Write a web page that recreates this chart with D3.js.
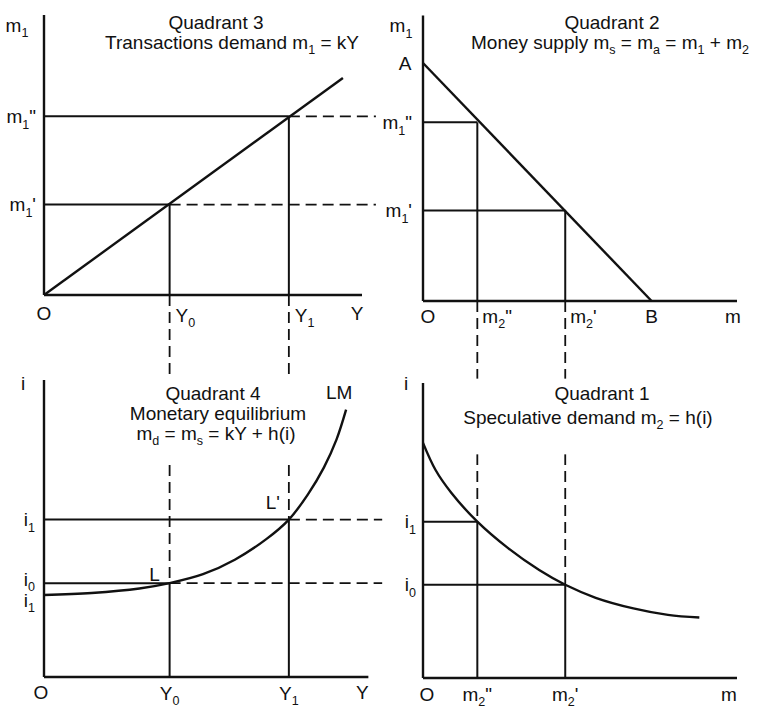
<!DOCTYPE html>
<html><head><meta charset="utf-8">
<script src="https://cdn.jsdelivr.net/npm/d3@7"></script>
<style>
body{margin:0;background:#fff}
svg text{font-family:"Liberation Sans",Arial,Helvetica,sans-serif;fill:#111;white-space:pre}
</style></head><body>
<svg id="c" width="769" height="710"></svg>
<script>
// ---- values (index 0: Y0 / m1' / m2' / i0, index 1: Y1 / m1" / m2" / i1) ----
const incomeLevels = [39.5, 77];
const incomeLabels = ["Y_0", "Y_1"];
const transactionsBalances = [32.3, 63.8];
const transactionsLabels = ["m_1'", "m_1\""];
const speculativeBalances = [45.3, 17.3];
const speculativeLabels = ["m_2'", "m_2\""];
const interestRates = [31.6, 53];
const interestLabels = ["i_0", "i_1"];

// transactions demand m1 = kY (Y, m1)
const transactionsLine = [[0, 0], [94, 77.5]];
// money supply line A -> B (m2, m1)
const moneySupplyLine = [[0, 85], [72.8, 0]];
// speculative demand m2 = h(i) (m2, i)
const speculativeCurve = [[0, 79.7], [4, 70.5], [9, 62.8], [17.3, 53], [27, 44.1], [37, 36.6],
  [45.3, 31.6], [55, 27.2], [67, 23.6], [78, 21.4], [88, 20.5]];
// LM curve (Y, i)
const lmCurve = [[0, 27.6], [15, 28.3], [30, 29.8], [39.5, 31.6], [50, 34.6], [60, 39.5],
  [70, 46.5], [77, 53], [83, 61.5], [88, 70.5], [92, 80], [95, 90]];

const titles = {
  q3: ["Quadrant 3", "Transactions demand m_1 = kY"],
  q2: ["Quadrant 2", "Money supply m_s = m_a = m_1 + m_2"],
  q4: ["Quadrant 4", "Monetary equilibrium", "m_d = m_s = kY + h(i)"],
  q1: ["Quadrant 1", "Speculative demand m_2 = h(i)"]
};

// ---- scales: left panels share Y, right panels share m ----
const xLeft = d3.scaleLinear([0, 100], [44, 362]);
const xRight = d3.scaleLinear([0, 100], [423, 737]);
const yQ3 = d3.scaleLinear([0, 100], [295, 15]);
const yQ2 = d3.scaleLinear([0, 100], [301, 21]);
const yQ4 = d3.scaleLinear([0, 100], [677, 380]);
const yQ1 = d3.scaleLinear([0, 100], [678, 383]);

const svg = d3.select("#c");
const ink = "#111";
const gDash = svg.append("g");
const gTitle = svg.append("g");
const gSolid = svg.append("g");
const gText = svg.append("g");

function rich(parent, x, y, s, anchor = "middle", size = 19) {
  const t = parent.append("text").attr("x", x).attr("y", y + size * 0.35)
    .attr("text-anchor", anchor).style("font-size", size + "px");
  const re = /_(.)|([^_]+)/g;
  let m, prevSub = false;
  const shift = size * 0.3;
  while ((m = re.exec(s))) {
    if (m[1]) {
      t.append("tspan").attr("dy", prevSub ? 0 : shift).style("font-size", (size * 0.66) + "px").text(m[1]);
      prevSub = true;
    } else {
      const sp = t.append("tspan").text(m[2]);
      if (prevSub) sp.attr("dy", -shift);
      prevSub = false;
    }
  }
  return t;
}

function seg(parent, x1, y1, x2, y2, w = 2, dash = null) {
  const l = parent.append("line").attr("x1", x1).attr("y1", y1).attr("x2", x2).attr("y2", y2)
    .attr("stroke", ink).attr("stroke-width", w).attr("stroke-linecap", "butt");
  if (dash) l.attr("stroke-dasharray", dash);
  return l;
}

const DASH = "11,6";

// ---- dashed connectors between quadrants ----
incomeLevels.forEach((Y, k) => {
  const m1 = transactionsBalances[k], m2 = speculativeBalances[k], i = interestRates[k];
  seg(gDash, xLeft(Y), yQ3(m1), xRight(-15), yQ3(m1), 1.8, DASH);   // Q3 -> Q2
  seg(gDash, xLeft(Y), yQ3(0), xLeft(Y), yQ4(i), 1.8, DASH);        // Q3 -> Q4
  seg(gDash, xRight(m2), yQ2(0), xRight(m2), yQ1(i), 1.8, DASH);    // Q2 -> Q1
  seg(gDash, xLeft(Y), yQ4(i), xRight(-13), yQ4(i), 1.8, DASH);     // Q4 -> Q1
});

// ---- titles ----
function titleBlock(lines, cx, cy, gap, size, cover, padB) {
  const g = gTitle.append("g");
  const bg = g.append("rect").attr("fill", "#fff");
  lines.forEach((s, j) => rich(g, cx[j], cy + j * gap, s, "middle", size));
  if (cover) {
    const b = g.node().getBBox();
    bg.attr("x", b.x - 4).attr("y", b.y - 4).attr("width", b.width + 8).attr("height", b.height + 4 + padB);
  }
}
titleBlock(titles.q3, [216, 232], 22, 20, 19, false, 0);
titleBlock(titles.q2, [612, 610], 22, 20, 19, false, 0);
titleBlock(titles.q4, [213, 218, 216], 393, 20, 19, true, 16);
titleBlock(titles.q1, [602, 588], 393, 24, 19, true, 22);

// ---- axes ----
const AX = 2.4;
seg(gSolid, xLeft(0), yQ3(0), xLeft(0), yQ3(100), AX);
seg(gSolid, xLeft(0), yQ3(0), xLeft(100), yQ3(0), AX);
seg(gSolid, xRight(0), yQ2(0), xRight(0), yQ2(102), AX);
seg(gSolid, xRight(0), yQ2(0), xRight(100), yQ2(0), AX);
seg(gSolid, xLeft(0), yQ4(0), xLeft(0), yQ4(100), AX);
seg(gSolid, xLeft(0), yQ4(0), xLeft(102), yQ4(0), AX);
seg(gSolid, xRight(0), yQ1(0), xRight(0), yQ1(100), AX);
seg(gSolid, xRight(0), yQ1(0), xRight(100), yQ1(0), AX);

// ---- solid guide lines inside each quadrant ----
incomeLevels.forEach((Y, k) => {
  const m1 = transactionsBalances[k], m2 = speculativeBalances[k], i = interestRates[k];
  seg(gSolid, xLeft(0), yQ3(m1), xLeft(Y), yQ3(m1));
  seg(gSolid, xLeft(Y), yQ3(m1), xLeft(Y), yQ3(0));
  seg(gSolid, xRight(0), yQ2(m1), xRight(m2), yQ2(m1));
  seg(gSolid, xRight(m2), yQ2(m1), xRight(m2), yQ2(0));
  seg(gSolid, xLeft(0), yQ4(i), xLeft(Y), yQ4(i));
  seg(gSolid, xLeft(Y), yQ4(i), xLeft(Y), yQ4(0));
  seg(gSolid, xRight(0), yQ1(i), xRight(m2), yQ1(i));
  seg(gSolid, xRight(m2), yQ1(i), xRight(m2), yQ1(0));
});

// ---- curves ----
function curve(data, xs, ys, c) {
  gSolid.append("path").datum(data)
    .attr("d", d3.line().x(d => xs(d[0])).y(d => ys(d[1])).curve(c || d3.curveLinear))
    .attr("fill", "none").attr("stroke", ink).attr("stroke-width", 2.4).attr("stroke-linejoin", "round");
}
curve(transactionsLine, xLeft, yQ3);
curve(moneySupplyLine, xRight, yQ2);
curve(speculativeCurve, xRight, yQ1, d3.curveCatmullRom.alpha(0.5));
curve(lmCurve, xLeft, yQ4, d3.curveCatmullRom.alpha(0.5));

// ---- labels ----
// Quadrant 3
rich(gText, xLeft(0) - 27, yQ3(100) + 10, "m_1");
transactionsBalances.forEach((v, k) => rich(gText, xLeft(0) - 8, yQ3(v), transactionsLabels[k], "end"));
rich(gText, xLeft(0), yQ3(0) + 18, "O");
incomeLevels.forEach((v, k) => rich(gText, xLeft(v) + 6, yQ3(0) + 20, incomeLabels[k], "start"));
rich(gText, xLeft(100) - 5, yQ3(0) + 18, "Y");

// Quadrant 2
rich(gText, xRight(0) - 22, yQ2(102) + 10, "m_1");
rich(gText, xRight(0) - 18, yQ2(moneySupplyLine[0][1]), "A");
transactionsBalances.forEach((v, k) => rich(gText, xRight(0) - 11, yQ2(v), transactionsLabels[k], "end"));
rich(gText, xRight(0) + 5, yQ2(0) + 15, "O");
speculativeBalances.forEach((v, k) => rich(gText, xRight(v) + 5, yQ2(0) + 15, speculativeLabels[k], "start"));
rich(gText, xRight(moneySupplyLine[1][0]), yQ2(0) + 15, "B");
rich(gText, xRight(100) - 4, yQ2(0) + 15, "m");

// Quadrant 4
rich(gText, xLeft(0) - 21, yQ4(100) + 3, "i");
interestRates.forEach((v, k) => rich(gText, xLeft(0) - 9, yQ4(v) - (k === 0 ? 4 : 0), interestLabels[k], "end"));
rich(gText, xLeft(0) - 9, yQ4(lmCurve[0][1]) + 5, "i_1", "end");
rich(gText, xLeft(incomeLevels[0]) - 15, yQ4(interestRates[0]) - 9, "L");
rich(gText, xLeft(incomeLevels[1]) - 16, yQ4(interestRates[1]) - 17, "L'");
const lmEnd = lmCurve[lmCurve.length - 1];
rich(gText, xLeft(lmEnd[0]) - 7, yQ4(lmEnd[1]) - 17, "LM");
rich(gText, xLeft(0) - 3, yQ4(0) + 15, "O");
incomeLevels.forEach((v, k) => rich(gText, xLeft(v), yQ4(0) + 16, incomeLabels[k]));
rich(gText, xLeft(102) - 6, yQ4(0) + 15, "Y");

// Quadrant 1
rich(gText, xRight(0) - 17, yQ1(100), "i");
interestRates.forEach((v, k) => rich(gText, xRight(0) - 7, yQ1(v), interestLabels[k], "end"));
rich(gText, xRight(0) + 4, yQ1(0) + 16, "O");
speculativeBalances.forEach((v, k) => rich(gText, xRight(v), yQ1(0) + 16, speculativeLabels[k]));
rich(gText, xRight(100) - 8, yQ1(0) + 16, "m");
</script>
</body></html>
